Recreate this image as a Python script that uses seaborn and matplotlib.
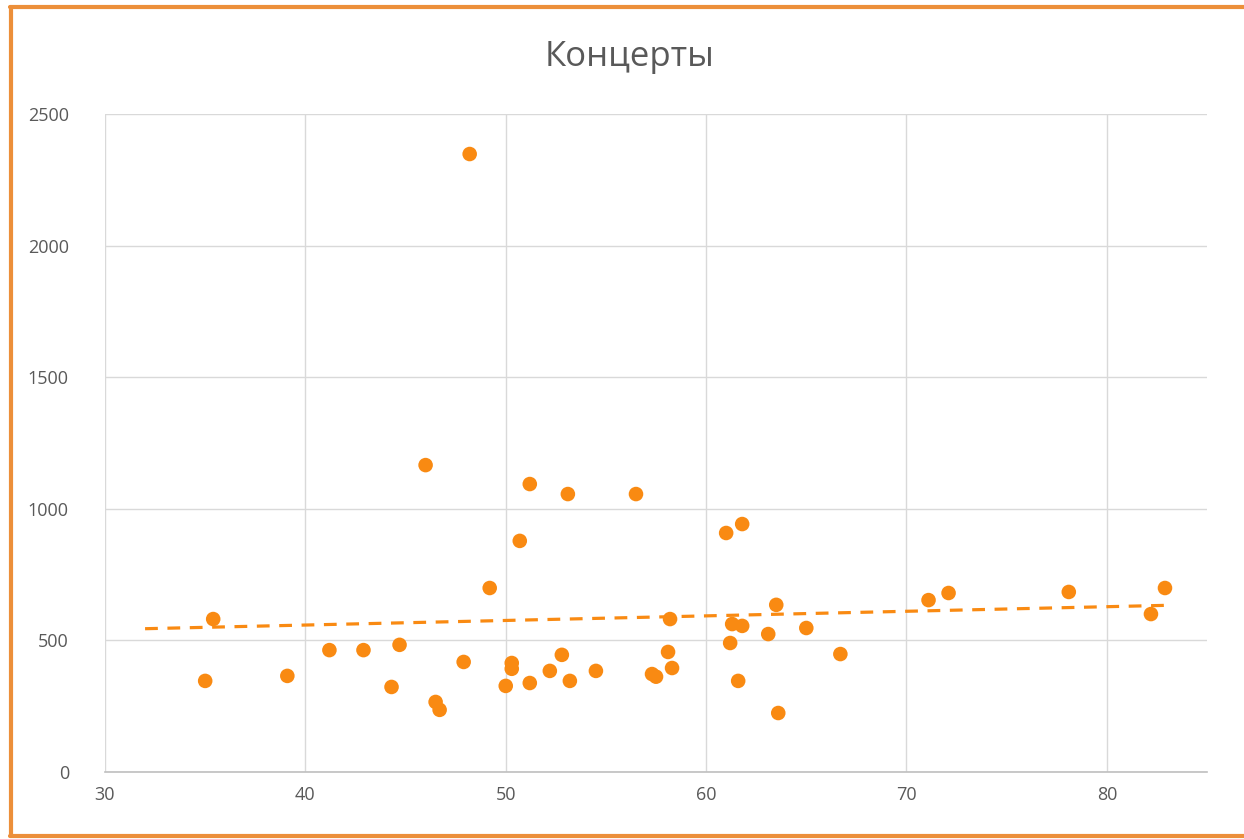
import matplotlib.pyplot as plt
import matplotlib.lines as mlines
import seaborn as sns
import pandas as pd
import numpy as np

# Data
age = [35.0, 35.4, 39.1, 41.2, 42.9, 44.3, 44.7, 46.0, 46.5, 46.7,
       47.9, 48.2, 49.2, 50.0, 50.3, 50.3, 50.7, 51.2, 51.2, 52.2,
       52.8, 53.1, 53.2, 54.5, 56.5, 57.3, 57.5, 58.2, 58.1, 58.3,
       61.0, 61.8, 61.3, 61.8, 61.2, 61.6, 63.1, 63.5, 63.6, 65.0,
       66.7, 71.1, 72.1, 78.1, 82.2, 82.9]
concerts = [346, 581, 365, 463, 463, 323, 483, 1166, 266, 236,
            418, 2348, 699, 327, 414, 392, 878, 338, 1094, 384,
            445, 1056, 346, 384, 1056, 372, 362, 581, 456, 395,
            908, 942, 562, 555, 490, 346, 524, 635, 224, 547,
            448, 653, 680, 684, 600, 699]
trend_start = 32  # backward forecast of the trendline

x_ticks = [30, 40, 50, 60, 70, 80]
y_ticks = [0, 500, 1000, 1500, 2000, 2500]
title = "Концерты"

df = pd.DataFrame({"age": age, "concerts": concerts})

sns.set_theme(style="white")
plt.rcParams['font.family'] = ['Open Sans', 'DejaVu Sans']

orange = '#F98A12'
gray_text = '#595959'
grid_color = '#D9D9D9'

fig = plt.figure(figsize=(12.44, 8.39), dpi=100)
ax = fig.add_axes([0.0844, 0.0799, 0.8859, 0.7842])

sns.scatterplot(data=df, x="age", y="concerts", ax=ax, color=orange,
                s=110, edgecolor='none', zorder=3)

# linear trendline
slope, intercept = np.polyfit(df["age"], df["concerts"], 1)
tx = np.array([trend_start, df["age"].max()])
ax.plot(tx, slope * tx + intercept, color=orange, linestyle=(0, (4, 3)),
        linewidth=2.3, zorder=2)

ax.set_xlim(30, 85)
ax.set_ylim(0, 2500)
ax.set_xticks(x_ticks)
ax.set_yticks(y_ticks)
ax.grid(True, color=grid_color, linewidth=1)
ax.set_axisbelow(True)
for side in ['top', 'right', 'left']:
    ax.spines[side].set_visible(False)
ax.spines['bottom'].set_color('#BFBFBF')
ax.spines['bottom'].set_linewidth(1.2)
ax.tick_params(axis='both', length=0, labelsize=13, labelcolor=gray_text)
ax.tick_params(axis='x', pad=10)
ax.tick_params(axis='y', pad=26)
ax.set_xlabel('')
ax.set_ylabel('')

fig.text(0.5064, 0.932, title, fontsize=25, color=gray_text,
         ha='center', va='center')

# orange frame (top, left, bottom) around the chart area
frame = '#EC8F3A'
for xs, ys in [([0.008, 1.0], [0.9915, 0.9915]),
               ([0.009, 0.009], [0.003, 0.992]),
               ([0.008, 1.0], [0.003, 0.003])]:
    fig.add_artist(mlines.Line2D(xs, ys, transform=fig.transFigure,
                                 color=frame, linewidth=3))

fig.savefig('out.png', dpi=100)
